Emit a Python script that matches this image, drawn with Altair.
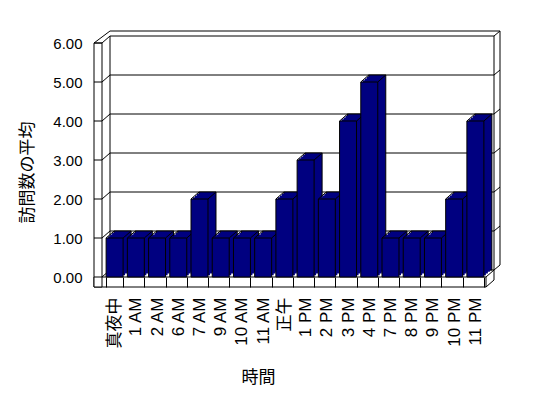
import altair as alt
import pandas as pd

CATEGORIES = ["真夜中", "1 AM", "2 AM", "6 AM", "7 AM", "9 AM", "10 AM", "11 AM",
              "正午", "1 PM", "2 PM", "3 PM", "4 PM", "7 PM", "8 PM", "9 PM", "10 PM", "11 PM"]
VALUES = [1, 1, 1, 1, 2, 1, 1, 1, 2, 3, 2, 4, 5, 1, 1, 1, 2, 4]
Y_TICKS = [0, 1, 2, 3, 4, 5, 6]
Y_TITLE = "訪問数の平均"
X_TITLE = "時間"

NAVY = "#000080"
W, H = 382, 234          # front plane of the plot
DX, DY = 8, -7           # depth offset (3D look)
TX, TY = 6, -5           # wall thickness
XL = -2                  # inner edge of the left wall
WALL_L = -10             # outer edge of the left wall
FLOOR = 10               # floor slab thickness
LATIN = "Liberation Sans, Noto Sans CJK JP"
CJK = "Noto Sans CJK JP"

bars_df = pd.DataFrame({"cat": CATEGORIES, "val": VALUES})
ticks_df = pd.DataFrame({"v": Y_TICKS})
one_df = pd.DataFrame({"k": [0]})

xs = alt.Scale(domain=CATEGORIES, paddingInner=0.2, paddingOuter=0.1)
ys = alt.Scale(domain=[0, 6], nice=False)

line = dict(color="black", strokeWidth=1)

x_axis = alt.Axis(
    domain=False, ticks=True, tickBand="extent", tickSize=FLOOR, tickColor="black",
    tickWidth=1, grid=False, labelAngle=270, labelPadding=10, labelFont=LATIN,
    labelFontSize=17, labelColor="black", labelOverlap=False, zindex=1,
    titleFont=CJK, titleFontSize=17, titleFontWeight="normal", titleColor="black",
    titleX=154, titleY=100, titleAlign="center", titleBaseline="middle")
y_axis = alt.Axis(
    values=Y_TICKS, format=".2f", domain=False, ticks=False, tickSize=0, grid=False,
    labelPadding=22, labelFont=LATIN, labelFontSize=15, labelColor="black",
    labelOverlap=False,
    titleFont=CJK, titleFontSize=17, titleFontWeight="normal", titleColor="black",
    titleAngle=270, titleX=-77, titleY=129, titleAlign="center", titleBaseline="middle")


def yv():
    return alt.Y("v:Q", scale=ys, title=Y_TITLE, axis=y_axis)


def yd(d):
    return alt.Y(datum=d, scale=ys, title=Y_TITLE, axis=y_axis)


layers = []

# ---- back wall ----
layers.append(alt.Chart(ticks_df).mark_rule(yOffset=DY, **line).encode(
    x=alt.value(XL + DX), x2=alt.value(W + DX), y=yv()))
layers.append(alt.Chart(ticks_df).mark_rule(y2Offset=DY, **line).encode(
    x=alt.value(XL), x2=alt.value(XL + DX), y=yv(), y2=alt.Y2("v:Q")))
layers.append(alt.Chart(ticks_df).mark_rule(yOffset=DY, y2Offset=DY + TY, **line).encode(
    x=alt.value(W + DX), x2=alt.value(W + DX + TX), y=yv(), y2=alt.Y2("v:Q")))
for xpos, off in [(XL + DX, DY), (W + DX, DY), (W + DX + TX, DY + TY)]:
    layers.append(alt.Chart(one_df).mark_rule(yOffset=off, y2Offset=off, **line).encode(
        x=alt.value(xpos), y=yd(6), y2=alt.Y2(datum=0)))
layers.append(alt.Chart(one_df).mark_rule(yOffset=DY + TY, **line).encode(
    x=alt.value(XL + DX), x2=alt.value(W + DX + TX), y=yd(6)))
layers.append(alt.Chart(one_df).mark_rule(y2Offset=DY + TY, **line).encode(
    x=alt.value(WALL_L), x2=alt.value(XL + DX), y=yd(6), y2=alt.Y2(datum=6)))

# ---- floor ----
layers.append(alt.Chart(one_df).mark_rect(fill="white", stroke="black", strokeWidth=1).encode(
    x=alt.value(WALL_L), x2=alt.value(W), y=yd(0), y2=alt.value(H + FLOOR)))
layers.append(alt.Chart(one_df).mark_rule(y2Offset=DY, **line).encode(
    x=alt.value(W), x2=alt.value(W + DX), y=yd(0), y2=alt.Y2(datum=0)))
layers.append(alt.Chart(one_df).mark_rule(**line).encode(
    x=alt.value(W), x2=alt.value(W + DX), y=alt.value(H + FLOOR), y2=alt.value(H + FLOOR + DY)))
layers.append(alt.Chart(one_df).mark_rule(yOffset=DY, **line).encode(
    x=alt.value(W + DX), y=yd(0), y2=alt.value(H + FLOOR + DY)))

# ---- left wall ----
layers.append(alt.Chart(one_df).mark_rect(fill="white", stroke="black", strokeWidth=1).encode(
    x=alt.value(WALL_L), x2=alt.value(XL), y=yd(6), y2=alt.value(H + FLOOR)))
layers.append(alt.Chart(ticks_df).mark_rule(**line).encode(
    x=alt.value(WALL_L), x2=alt.value(XL), y=yv()))

# ---- 3D bars ----
bx = alt.X("cat:N", scale=xs, title=X_TITLE, axis=x_axis)
by = alt.Y("val:Q", scale=ys, title=Y_TITLE, axis=y_axis)
base = alt.Chart(bars_df)

layers.append(base.mark_bar(fill=NAVY, stroke="black", strokeWidth=1,
                            xOffset=DX, yOffset=DY, y2Offset=DY).encode(
    x=bx, y=by, y2=alt.Y2(datum=0)))
for f in [0.75, 0.5, 0.25]:
    layers.append(base.mark_bar(fill=NAVY, strokeWidth=0,
                                xOffset=DX * f, yOffset=DY * f, y2Offset=DY * f).encode(
        x=bx, y=by, y2=alt.Y2(datum=0)))
for bp in [0, 1]:
    layers.append(base.mark_rule(x2Offset=DX, y2Offset=DY, **line).encode(
        x=alt.X("cat:N", scale=xs, title=X_TITLE, axis=x_axis, bandPosition=bp),
        x2=alt.X2("cat:N", bandPosition=bp),
        y=by, y2=alt.Y2("val:Q")))

layers.append(base.mark_bar(fill=NAVY, stroke="black", strokeWidth=1).encode(
    x=bx, y=by, y2=alt.Y2(datum=0)))

chart = alt.layer(*layers).properties(
    width=W, height=H,
    autosize=alt.AutoSizeParams(type="none"),
    padding={"left": 104, "top": 43, "right": 62, "bottom": 121},
    background="white",
).configure_view(strokeWidth=0).configure_axis(
    grid=False, labelOverlap=False, labelColor="black"
).configure_axisY(
    labelFontSize=15, labelFont=LATIN
).configure_axisX(
    labelFontSize=17, labelFont=LATIN
)

chart.save("out.html", embed_options={"renderer": "svg", "actions": False})
